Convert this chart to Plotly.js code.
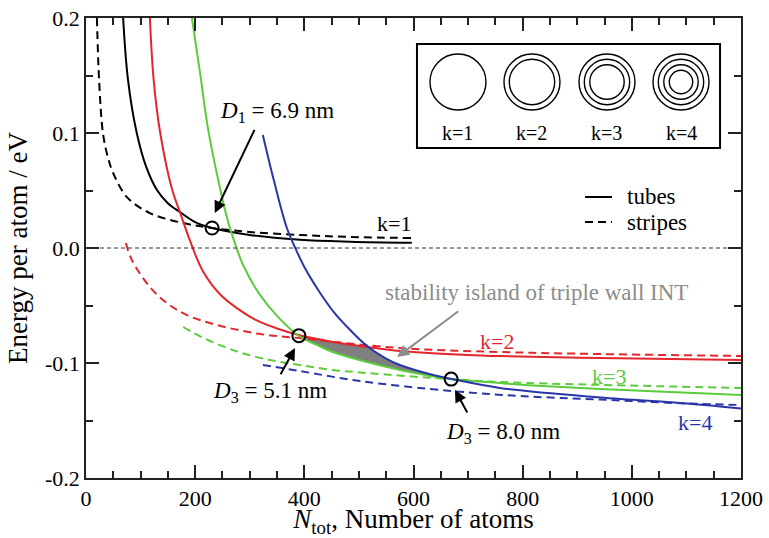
<!DOCTYPE html>
<html>
<head>
<meta charset="utf-8">
<script src="https://cdn.plot.ly/plotly-3.0.1.min.js"></script>
<style>html,body{margin:0;padding:0;background:#fff;}#chart{width:769px;height:538px;}#chart svg text{font-family:"Liberation Serif","Times New Roman",serif !important;}</style>
</head>
<body>
<div id="chart"></div>
<script>
// ---- data ----
const k1TubeX = [68, 77, 93, 110, 130, 150, 172, 200, 231, 300, 392, 484, 597];
const k1TubeY = [0.2, 0.146, 0.1, 0.071, 0.0504, 0.039, 0.0313, 0.0225, 0.0174, 0.0113, 0.0072, 0.0055, 0.0045];
const k1StripeX = [20, 24, 31, 40, 50, 75, 117, 178, 231, 300, 392, 484, 597];
const k1StripeY = [0.2, 0.146, 0.1, 0.079, 0.065, 0.0443, 0.0304, 0.0217, 0.0174, 0.0139, 0.0113, 0.0096, 0.0087];

const k2TubeX = [117, 124, 136, 158, 172, 190, 214, 245, 277, 313, 350, 390, 452, 515, 575, 698, 758, 942, 1200];
const k2TubeY = [0.2, 0.146, 0.1, 0.0504, 0.0313, 0.007, -0.020, -0.040, -0.0525, -0.063, -0.070, -0.0757, -0.0817, -0.086, -0.0896, -0.093, -0.094, -0.0957, -0.0974];
const k2StripeX = [73, 84, 117, 148, 185, 240, 319, 390, 575, 758, 942, 1200];
const k2StripeY = [0.0043, -0.0104, -0.0339, -0.0478, -0.0583, -0.067, -0.0748, -0.0783, -0.087, -0.0904, -0.0922, -0.0939];

const k3TubeX = [194, 209, 223.5, 245.5, 260, 273, 288, 319, 350, 390, 423, 452, 515, 575, 670, 758, 819, 942, 1200];
const k3TubeY = [0.2, 0.152, 0.104, 0.052, 0.0235, 0.004, -0.015, -0.041, -0.059, -0.0765, -0.0843, -0.0904, -0.0991, -0.106, -0.114, -0.1174, -0.1195, -0.1226, -0.1278];
const k3StripeX = [178, 214, 277, 337, 392, 452, 515, 636, 758, 942, 1200];
const k3StripeY = [-0.0687, -0.078, -0.090, -0.0974, -0.1017, -0.106, -0.1087, -0.113, -0.1165, -0.119, -0.1217];

const k4TubeX = [324, 344, 368, 385, 401, 429, 454, 484, 515, 548, 575, 636, 670, 758, 942, 1101, 1200];
const k4TubeY = [0.0983, 0.0591, 0.0174, -0.0017, -0.0174, -0.0391, -0.0557, -0.0713, -0.0852, -0.0957, -0.1017, -0.1104, -0.1139, -0.1217, -0.130, -0.1352, -0.1395];
const k4StripeX = [324, 392, 502, 669, 795, 942, 1101, 1200];
const k4StripeY = [-0.1017, -0.107, -0.1157, -0.1243, -0.1287, -0.1318, -0.1352, -0.1365];

const islandX = [390, 420, 452, 485, 515, 545, 575, 605, 636, 670];
const islandTop = [-0.0757, -0.079, -0.0817, -0.084, -0.086, -0.0950, -0.1017, -0.1065, -0.1104, -0.1139];
const islandBottom = [-0.0765, -0.0838, -0.0904, -0.0952, -0.0991, -0.1027, -0.106, -0.1088, -0.1115, -0.114];

const crossX = [231, 390, 669];
const crossY = [0.0174, -0.0762, -0.114];

const yTickVals = [-0.2, -0.1, 0, 0.1, 0.2];
const yTickText = ['-0.2', '-0.1', '0.0', '0.1', '0.2'];
const insetLabels = ['k=1', 'k=2', 'k=3', 'k=4'];
const ringRadii = [28, 22.7, 17.2, 11.7];

// ---- styling ----
const FONT = 'Liberation Serif';
const RED = '#e3262b', GREEN = '#5ccb3c', BLUE = '#2a36a8', BLACK = '#000000';
const DASH = '8px,5px';

function makeCurve(x, y, color, dashed) {
  return {x: x, y: y, type: 'scatter', mode: 'lines',
    line: {color: color, width: 2, shape: 'spline', smoothing: 1.0, dash: dashed ? DASH : 'solid'},
    hoverinfo: 'skip', showlegend: false};
}

const traces = [
  {x: islandX, y: islandBottom, type: 'scatter', mode: 'lines', line: {width: 0, color: 'rgba(0,0,0,0)', shape: 'spline'}, showlegend: false, hoverinfo: 'skip'},
  {x: islandX, y: islandTop, type: 'scatter', mode: 'lines', fill: 'tonexty', fillcolor: '#808080', line: {width: 0, color: 'rgba(0,0,0,0)', shape: 'spline'}, showlegend: false, hoverinfo: 'skip'},
  makeCurve(k1StripeX, k1StripeY, BLACK, true),
  makeCurve(k1TubeX, k1TubeY, BLACK, false),
  makeCurve(k2StripeX, k2StripeY, RED, true),
  makeCurve(k2TubeX, k2TubeY, RED, false),
  makeCurve(k3StripeX, k3StripeY, GREEN, true),
  makeCurve(k3TubeX, k3TubeY, GREEN, false),
  makeCurve(k4StripeX, k4StripeY, BLUE, true),
  makeCurve(k4TubeX, k4TubeY, BLUE, false),
  {x: crossX, y: crossY, type: 'scatter', mode: 'markers',
   marker: {symbol: 'circle-open', size: 13, color: BLACK, line: {width: 2, color: BLACK}},
   showlegend: false, hoverinfo: 'skip'}
];

// inset geometry (paper coordinates)
const boxX0 = 0.5053, boxX1 = 0.968, boxY0 = 0.7174, boxY1 = 0.9435;
const ringCentersX = [0.5679, 0.6809, 0.7954, 0.9084];
const ringCenterY = 0.8609;

const shapes = [
  {type: 'line', xref: 'paper', yref: 'y', x0: 0, x1: 1, y0: 0, y1: 0, line: {color: '#333', width: 1, dash: '4px,3px'}},
  {type: 'rect', xref: 'paper', yref: 'paper', x0: boxX0, x1: boxX1, y0: boxY0, y1: boxY1, line: {color: BLACK, width: 2}, fillcolor: 'rgba(0,0,0,0)'},
  {type: 'line', xref: 'paper', yref: 'paper', x0: 0.7618, x1: 0.803, y0: 0.6109, y1: 0.6109, line: {color: BLACK, width: 2}},
  {type: 'line', xref: 'paper', yref: 'paper', x0: 0.7618, x1: 0.803, y0: 0.5565, y1: 0.5565, line: {color: BLACK, width: 2, dash: '8px,5px'}}
];
ringCentersX.forEach(function (cx, i) {
  for (let r = 0; r <= i; r++) {
    const rad = ringRadii[r];
    shapes.push({type: 'circle', xref: 'paper', yref: 'paper', xsizemode: 'pixel', ysizemode: 'pixel',
      xanchor: cx, yanchor: ringCenterY, x0: -rad, x1: rad, y0: -rad, y1: rad,
      line: {color: BLACK, width: 1.4}, fillcolor: 'rgba(0,0,0,0)'});
  }
});

function makeLabel(x, y, text, size, color, ref) {
  return {x: x, y: y, xref: ref ? 'paper' : 'x', yref: ref ? 'paper' : 'y', text: text, showarrow: false,
    xanchor: 'center', yanchor: 'middle', font: {family: FONT, size: size, color: color}};
}
function makeArrow(x, y, ax, ay, color) {
  return {x: x, y: y, ax: ax, ay: ay, axref: 'x', ayref: 'y', xref: 'x', yref: 'y', text: '', showarrow: true,
    arrowhead: 2, arrowsize: 1.2, arrowwidth: 2, arrowcolor: color};
}

const annotations = [
  makeArrow(236, 0.0304, 310, 0.104, BLACK),
  makeLabel(350, 0.118, '<i>D</i><sub>1</sub> = 6.9 nm', 23, BLACK),
  makeArrow(383, -0.087, 355, -0.111, BLACK),
  makeLabel(337, -0.125, '<i>D</i><sub>3</sub> = 5.1 nm', 23, BLACK),
  makeArrow(676, -0.1235, 700, -0.1443, BLACK),
  makeLabel(764, -0.161, '<i>D</i><sub>3</sub> = 8.0 nm', 23, BLACK),
  makeArrow(570, -0.0948, 685, -0.054, '#8c8c8c'),
  makeLabel(826, -0.039, 'stability island of triple wall INT', 23, '#8c8c8c'),
  makeLabel(564, 0.0209, 'k=1', 22, BLACK),
  makeLabel(753, -0.0809, 'k=2', 22, RED),
  makeLabel(958, -0.112, 'k=3', 22, GREEN),
  makeLabel(1116, -0.152, 'k=4', 22, BLUE)
];
const tubesLbl = makeLabel(0.8222, 0.6109, 'tubes', 23, BLACK, true); tubesLbl.xanchor = 'left';
const stripesLbl = makeLabel(0.8222, 0.5565, 'stripes', 23, BLACK, true); stripesLbl.xanchor = 'left';
annotations.push(tubesLbl, stripesLbl);
ringCentersX.forEach(function (cx, i) {
  annotations.push(makeLabel(cx, 0.75, insetLabels[i], 20, BLACK, true));
});

function axisBase() {
  return {
    showgrid: false, zeroline: false, showline: true, linecolor: '#222', linewidth: 1.5,
    mirror: 'allticks', ticks: 'inside', ticklen: 13, tickwidth: 1.5, tickcolor: '#222',
    tickfont: {family: FONT, size: 22, color: BLACK}
  };
}

const layout = {
  width: 769, height: 538,
  margin: {l: 86, r: 28, t: 18, b: 60},
  paper_bgcolor: '#fff', plot_bgcolor: '#fff',
  font: {family: FONT, size: 22, color: BLACK},
  showlegend: false,
  xaxis: Object.assign(axisBase(), {
    range: [0, 1200], tickmode: 'linear', tick0: 0, dtick: 200,
    minor: {dtick: 50, tick0: 0, ticks: 'inside', ticklen: 7, tickwidth: 1.5, tickcolor: '#222'},
    title: {text: '<i>N</i><sub>tot</sub>, Number of atoms', font: {family: FONT, size: 27, color: BLACK}, standoff: 3}
  }),
  yaxis: Object.assign(axisBase(), {
    range: [-0.2, 0.2], tickmode: 'array', tickvals: yTickVals, ticktext: yTickText,
    minor: {dtick: 0.05, tick0: 0, ticks: 'inside', ticklen: 7, tickwidth: 1.5, tickcolor: '#222'},
    title: {text: 'Energy per atom / eV', font: {family: FONT, size: 27, color: BLACK}, standoff: 10}
  }),
  shapes: shapes,
  annotations: annotations
};

function forceSerif() {
  document.querySelectorAll('#chart svg text, #chart svg tspan').forEach(function (t) {
    t.style.setProperty('font-family', '"Liberation Serif", "Times New Roman", serif', 'important');
  });
}

Plotly.newPlot('chart', traces, layout, {displayModeBar: false}).then(forceSerif);
setTimeout(forceSerif, 50);
setTimeout(forceSerif, 300);
</script>
</body>
</html>
